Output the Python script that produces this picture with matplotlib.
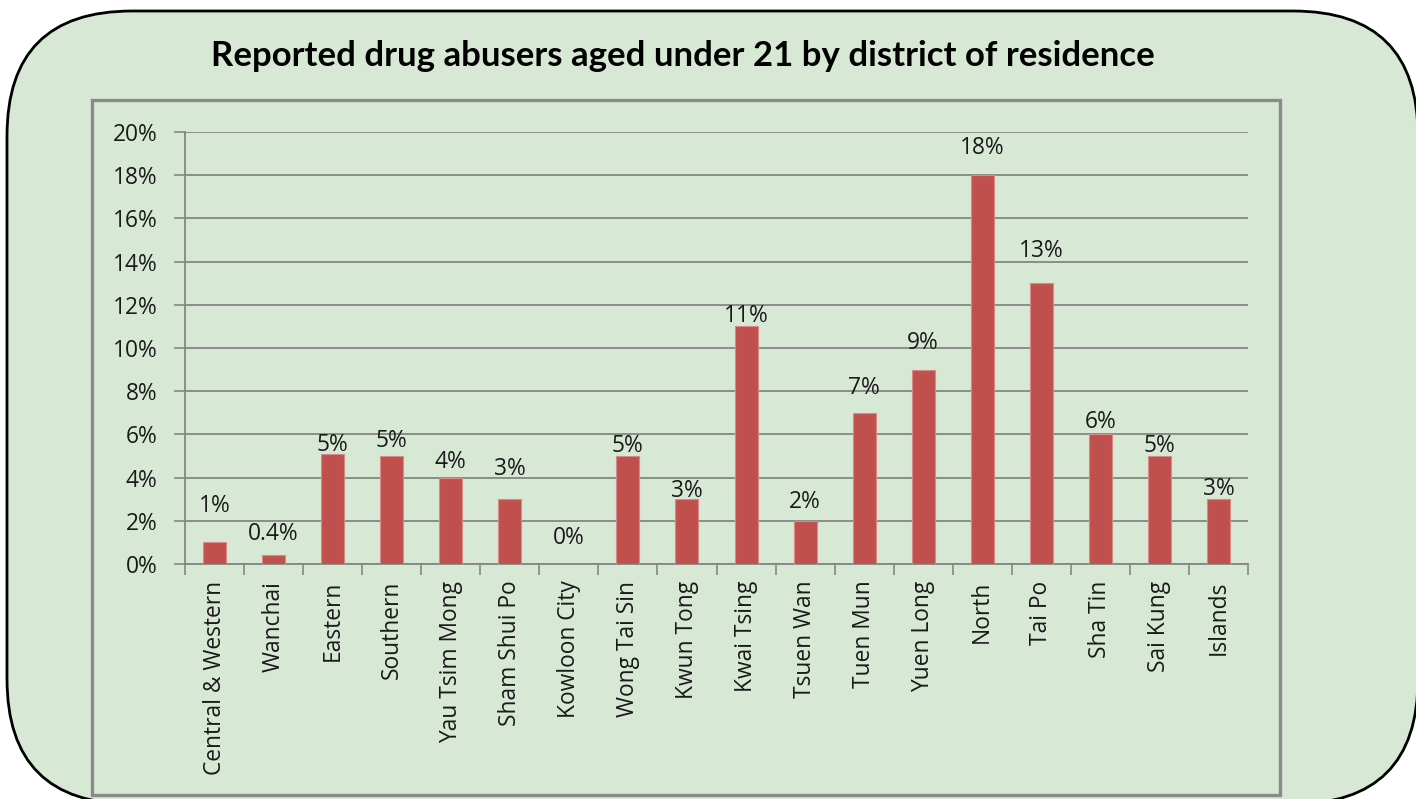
import matplotlib
matplotlib.use("Agg")
import matplotlib.pyplot as plt
from matplotlib.patches import FancyBboxPatch, Rectangle

plt.rcParams['font.family'] = ['Open Sans', 'DejaVu Sans']

districts = ["Central & Western", "Wanchai", "Eastern", "Southern", "Yau Tsim Mong",
             "Sham Shui Po", "Kowloon City", "Wong Tai Sin", "Kwun Tong", "Kwai Tsing",
             "Tsuen Wan", "Tuen Mun", "Yuen Long", "North", "Tai Po", "Sha Tin",
             "Sai Kung", "Islands"]
values = [1, 0.4, 5.1, 5, 4, 3, 0, 5, 3, 11, 2, 7, 9, 18, 13, 6, 5, 3]
value_labels = ["1%", "0.4%", "5%", "5%", "4%", "3%", "0%", "5%", "3%", "11%",
                "2%", "7%", "9%", "18%", "13%", "6%", "5%", "3%"]
yticks = [0, 2, 4, 6, 8, 10, 12, 14, 16, 18, 20]
title = "Reported drug abusers aged under 21 by district of residence"

# styling: gap (pixels) between bar top and label baseline
label_gap_px = [30, 15, 3, 9, 10, 24, 20, 4, 2, 4, 13, 19, 21, 21, 26, 6, 4, 4]

W, H = 1416, 799
fig = plt.figure(figsize=(W / 100, H / 100), dpi=100, facecolor='white')

bg = fig.add_axes([0, 0, 1, 1], zorder=0)
bg.set_xlim(0, W)
bg.set_ylim(H, 0)
bg.axis('off')
bg.add_patch(FancyBboxPatch((7, 11), 1411, 793,
                            boxstyle="round,pad=0,rounding_size=125",
                            facecolor='#d7e9d5', edgecolor='black', lw=2.0))
bg.add_patch(Rectangle((92, 100), 1188, 695, fill=False,
                       edgecolor='#8a8a8a', lw=2.4))
bg.text(683, 66, title, ha='center', va='baseline', fontsize=25,
        fontweight='bold', color='black', family=['Lato', 'DejaVu Sans'])

ax = fig.add_axes([185 / W, (H - 564) / H, (1248 - 185) / W, (564 - 132) / H], zorder=1)
ax.patch.set_alpha(0)
x = list(range(len(districts)))
ax.bar(x, values, width=0.39, color='#c0504d', edgecolor='#d98a88', linewidth=0.8, zorder=3)

fs = 16.4
ax.set_xlim(-0.5, len(districts) - 0.5)
ax.set_ylim(0, 20)
ax.set_yticks(yticks)
ax.set_yticklabels([f"{v}%" for v in yticks], fontsize=fs, color='#1a1a1a')
ax.set_xticks(x)
ax.set_xticklabels(districts, rotation=90, fontsize=fs, color='#1a1a1a')
ax.tick_params(axis='x', which='major', length=0, pad=12)
ax.set_xticks([i - 0.5 for i in range(len(districts) + 1)], minor=True)
ax.tick_params(axis='x', which='minor', length=8, width=1.2, color='#868686', direction='out')
ax.tick_params(axis='y', length=8, width=1.2, color='#868686', direction='out', pad=12)

ax.grid(axis='y', color='#868686', linewidth=1.3, zorder=0)
ax.set_axisbelow(True)
for s in ['top', 'right']:
    ax.spines[s].set_visible(False)
for s in ['left', 'bottom']:
    ax.spines[s].set_color('#868686')
    ax.spines[s].set_linewidth(1.3)

for i, (v, lab) in enumerate(zip(values, value_labels)):
    ax.annotate(lab, (i, v), xytext=(0, label_gap_px[i] * 0.72), textcoords='offset points',
                ha='center', va='baseline', fontsize=fs, color='#1a1a1a')

fig.savefig('out.png', dpi=100, facecolor='white')
